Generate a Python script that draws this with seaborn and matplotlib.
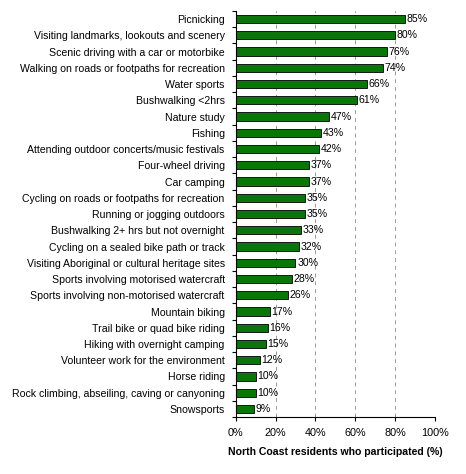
import matplotlib
matplotlib.use("Agg")
import matplotlib.pyplot as plt
import seaborn as sns
import pandas as pd

activities = [
    "Picnicking",
    "Visiting landmarks, lookouts and scenery",
    "Scenic driving with a car or motorbike",
    "Walking on roads or footpaths for recreation",
    "Water sports",
    "Bushwalking <2hrs",
    "Nature study",
    "Fishing",
    "Attending outdoor concerts/music festivals",
    "Four-wheel driving",
    "Car camping",
    "Cycling on roads or footpaths for recreation",
    "Running or jogging outdoors",
    "Bushwalking 2+ hrs but not overnight",
    "Cycling on a sealed bike path or track",
    "Visiting Aboriginal or cultural heritage sites",
    "Sports involving motorised watercraft",
    "Sports involving non-motorised watercraft",
    "Mountain biking",
    "Trail bike or quad bike riding",
    "Hiking with overnight camping",
    "Volunteer work for the environment",
    "Horse riding",
    "Rock climbing, abseiling, caving or canyoning",
    "Snowsports",
]
participation = [85, 80, 76, 74, 66, 61, 47, 43, 42, 37, 37, 35, 35, 33, 32,
                 30, 28, 26, 17, 16, 15, 12, 10, 10, 9]
x_ticks = [0, 20, 40, 60, 80, 100]

df = pd.DataFrame({"activity": activities, "pct": participation})

sns.set_style("white")
plt.rcParams["font.family"] = ["Liberation Sans", "DejaVu Sans"]
plt.rcParams["text.color"] = "black"
plt.rcParams["xtick.color"] = "black"
plt.rcParams["ytick.color"] = "black"
plt.rcParams["axes.labelcolor"] = "black"

fig = plt.figure(figsize=(4.66, 4.74), dpi=100)
ax = fig.add_axes([0.506, 0.12, 0.427, 0.857])

sns.barplot(data=df, x="pct", y="activity", color="#0a760a", width=0.5,
            edgecolor="black", linewidth=0.6, saturation=1, ax=ax)

for i, v in enumerate(df["pct"]):
    ax.text(v + 0.8, i, f"{v}%", va="center", ha="left", fontsize=7.6)

ax.set_xlim(0, 100)
ax.set_ylim(len(df) - 0.5, -0.5)
ax.set_xticks(x_ticks)
ax.set_xticklabels([f"{t}%" for t in x_ticks], fontsize=7.8)
ax.set_yticks(range(len(df)))
ax.set_yticklabels(df["activity"], fontsize=7.6)
ax.set_yticks([i + 0.5 for i in range(-1, len(df))], minor=True)
ax.tick_params(axis="y", which="major", left=True, length=0, pad=8)
ax.tick_params(axis="y", which="minor", left=True, length=3, direction="out",
               width=0.8, color="black")
ax.tick_params(axis="x", bottom=True, length=3, width=0.8, direction="out",
               color="black", pad=5)

ax.xaxis.grid(True, linestyle=(0, (4, 4)), color="#999999", linewidth=0.7)
ax.set_axisbelow(True)
for s in ["top", "right"]:
    ax.spines[s].set_visible(False)
for s in ["left", "bottom"]:
    ax.spines[s].set_color("black")
    ax.spines[s].set_linewidth(0.8)

ax.set_xlabel("North Coast residents who participated (%)", fontsize=7.6,
              fontweight="bold", labelpad=6)
ax.set_ylabel("")

fig.savefig("out.png", dpi=100)
